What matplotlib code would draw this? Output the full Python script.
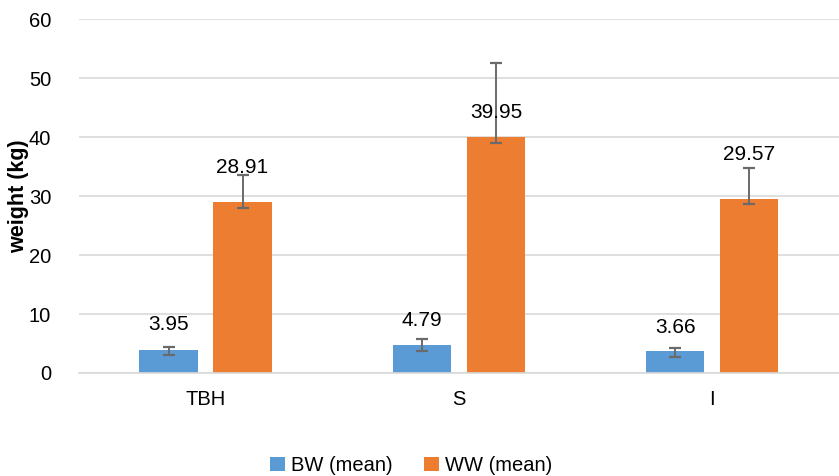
import matplotlib.pyplot as plt
import numpy as np

plt.rcParams['font.family'] = ['Liberation Sans', 'DejaVu Sans']

categories = ['TBH', 'S', 'I']
bw_mean = [3.95, 4.79, 3.66]
ww_mean = [28.91, 39.95, 29.57]
bw_err_low = [0.9, 1.0, 1.0]
bw_err_high = [0.45, 1.0, 0.5]
ww_err_low = [1.0, 1.0, 1.0]
ww_err_high = [4.7, 12.6, 5.1]

# label offsets above bar top (points), as placed in the original
bw_lab_off = [18, 17.5, 17.5]
ww_lab_off = [25, 18, 32]

fig = plt.figure(figsize=(8.39, 4.76), dpi=100)
ax = fig.add_axes([0.094, 0.2164, 0.906, 0.7436])

x = np.arange(len(categories))
w = 0.23
off = 0.146
ekw = dict(ecolor='#6a6a6a', elinewidth=1.4, capsize=4.5, capthick=1.6)
b1 = ax.bar(x - off, bw_mean, w, color='#5B9BD5', label='BW (mean)',
            yerr=[bw_err_low, bw_err_high], error_kw=ekw, zorder=2)
b2 = ax.bar(x + off, ww_mean, w, color='#ED7D31', label='WW (mean)',
            yerr=[ww_err_low, ww_err_high], error_kw=ekw, zorder=2)

for bars, vals, offs in [(b1, bw_mean, bw_lab_off), (b2, ww_mean, ww_lab_off)]:
    for r, v, o in zip(bars, vals, offs):
        ax.annotate('%.2f' % v, (r.get_x() + r.get_width() / 2, v),
                    xytext=(0, o), textcoords='offset points',
                    ha='center', va='center', fontsize=15, color='#000000', zorder=5)

ax.set_xlim(-0.5, 2.5)
ax.set_ylim(0, 60)
ax.set_yticks(range(0, 61, 10))
ax.set_xticks(x)
ax.set_xticklabels(categories)
ax.tick_params(axis='both', length=0, labelsize=14.5, colors='#000000')
ax.tick_params(axis='x', pad=12)
ax.tick_params(axis='y', pad=20)
ax.grid(axis='y', color='#D9D9D9', linewidth=1.2, zorder=0)
for s in ['top', 'right', 'left']:
    ax.spines[s].set_visible(False)
ax.spines['bottom'].set_color('#D9D9D9')
ax.spines['bottom'].set_linewidth(1.2)
ax.set_ylabel('weight (kg)', fontsize=15.5, fontweight='bold', labelpad=0)

fig.legend(handles=[b1, b2], loc='center', bbox_to_anchor=(0.49, 0.022), ncol=2,
           frameon=False, fontsize=14.5, handlelength=0.7, handleheight=0.7,
           handletextpad=0.3, columnspacing=1.6)

fig.savefig('out.png', dpi=100)
